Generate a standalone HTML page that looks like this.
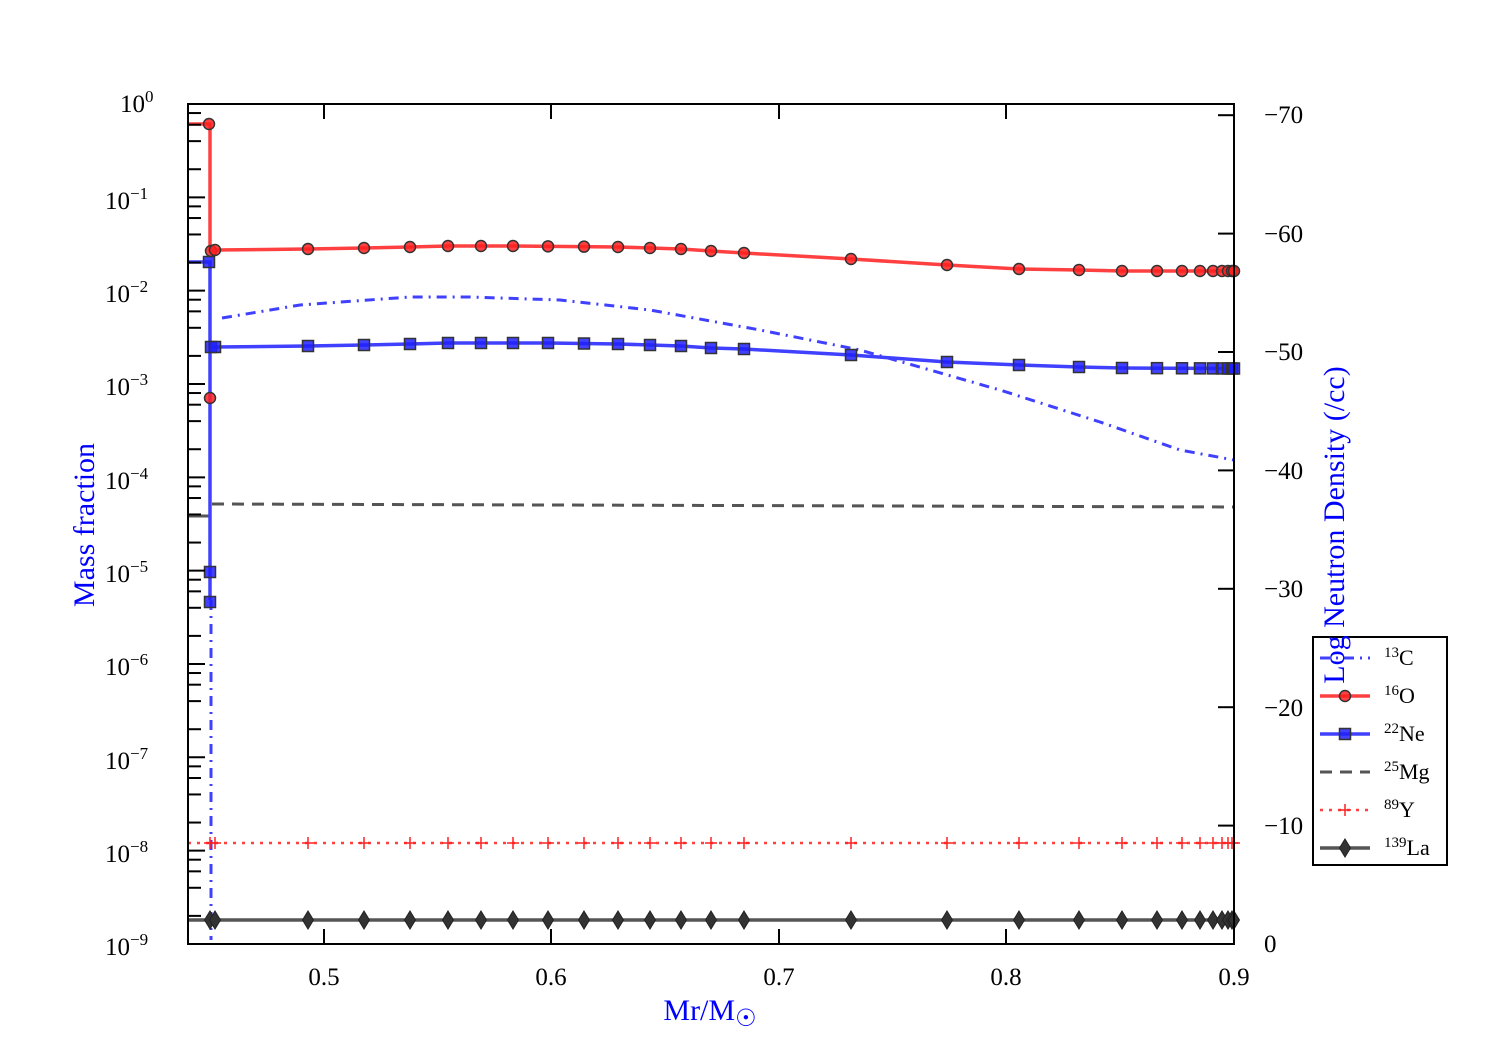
<!DOCTYPE html>
<html><head><meta charset="utf-8"><style>
html,body{margin:0;padding:0;background:#fff;}
svg{display:block;font-family:"Liberation Serif",serif;}
</style></head><body>
<svg id="s" width="1500" height="1050" xmlns="http://www.w3.org/2000/svg">
<rect width="1500" height="1050" fill="#fff"/>
<g id="data"></g>
<g id="ticks" stroke="#000" stroke-width="2"></g>
<rect x="188" y="104" width="1046" height="840" fill="none" stroke="#000" stroke-width="2"/>
<g id="legend">
<rect x="1313" y="637" width="134" height="228" fill="#fff" stroke="#000" stroke-width="2"/>
<g font-size="22" fill="#000">
<text x="1384" y="665"><tspan font-size="15" dy="-8">13</tspan><tspan dy="8">C</tspan></text>
<text x="1384" y="703"><tspan font-size="15" dy="-8">16</tspan><tspan dy="8">O</tspan></text>
<text x="1384" y="741"><tspan font-size="15" dy="-8">22</tspan><tspan dy="8">Ne</tspan></text>
<text x="1384" y="779"><tspan font-size="15" dy="-8">25</tspan><tspan dy="8">Mg</tspan></text>
<text x="1384" y="817"><tspan font-size="15" dy="-8">89</tspan><tspan dy="8">Y</tspan></text>
<text x="1384" y="855"><tspan font-size="15" dy="-8">139</tspan><tspan dy="8">La</tspan></text>
</g>
</g>
<g font-size="25" fill="#000">
<text x="120" y="112">10<tspan dy="-10" font-size="17">0</tspan></text>
<text x="105" y="209">10<tspan dy="-10" font-size="17">−1</tspan></text>
<text x="105" y="302">10<tspan dy="-10" font-size="17">−2</tspan></text>
<text x="105" y="395">10<tspan dy="-10" font-size="17">−3</tspan></text>
<text x="105" y="489">10<tspan dy="-10" font-size="17">−4</tspan></text>
<text x="105" y="582">10<tspan dy="-10" font-size="17">−5</tspan></text>
<text x="105" y="675">10<tspan dy="-10" font-size="17">−6</tspan></text>
<text x="105" y="769">10<tspan dy="-10" font-size="17">−7</tspan></text>
<text x="105" y="862">10<tspan dy="-10" font-size="17">−8</tspan></text>
<text x="105" y="955">10<tspan dy="-10" font-size="17">−9</tspan></text>
<g text-anchor="middle">
<text x="324" y="985">0.5</text><text x="551" y="985">0.6</text><text x="779" y="985">0.7</text><text x="1006" y="985">0.8</text><text x="1234" y="985">0.9</text>
</g>
<text x="1264" y="123">−70</text><text x="1264" y="242">−60</text><text x="1264" y="360">−50</text><text x="1264" y="479">−40</text>
<text x="1264" y="597">−30</text><text x="1264" y="716">−20</text><text x="1264" y="834">−10</text><text x="1264" y="952">0</text>
</g>
<text x="710" y="1020" font-size="30" fill="#00f" text-anchor="middle">Mr/M<tspan font-size="24" dy="6">☉</tspan></text>
<text transform="translate(94,525) rotate(-90)" font-size="30" fill="#00f" text-anchor="middle">Mass fraction</text>
<text transform="translate(1344,525) rotate(-90)" font-size="30" fill="#00f" text-anchor="middle">Log Neutron Density (/cc)</text>
</svg>
<script>
var NS="http://www.w3.org/2000/svg";
function el(p,t,a){var e=document.createElementNS(NS,t);for(var k in a)e.setAttribute(k,a[k]);p.appendChild(e);return e;}
var T=document.getElementById("ticks"),D=document.getElementById("data"),L=document.getElementById("legend");
for(var d=0;d<9;d++){var y0=104+93.33*d;
 el(T,"line",{x1:188,x2:205,y1:y0,y2:y0});
 [2,4,6,8].forEach(function(m){var y=y0+93.33*(1-Math.log10(m));el(T,"line",{x1:188,x2:201,y1:y,y2:y});});}
el(T,"line",{x1:188,x2:205,y1:944,y2:944});
[324,551,779,1006].forEach(function(x){el(T,"line",{x1:x,x2:x,y1:944,y2:929});el(T,"line",{x1:x,x2:x,y1:104,y2:119});});
for(var i=0;i<8;i++){var y=944-118.4*i;el(T,"line",{x1:1234,x2:1218,y1:y,y2:y});}
var xs=[215,308,364,410,448,481,513,548,584,618,650,681,711,744,851,947,1019,1079,1122,1157,1182,1200,1213,1222,1228,1232,1234];
function interp(px,py,x){for(var i=0;i<px.length-1;i++){if(x<=px[i+1])return py[i]+(py[i+1]-py[i])*(x-px[i])/(px[i+1]-px[i]);}return py[py.length-1];}
var oX=[215,308,364,410,448,513,618,650,681,711,744,851,947,1019,1079,1122,1234],oY=[250,249,248,247,246,246,247,248,249,251,253,259,265,269,270,271,271];
var nX=[215,308,364,410,448,548,618,650,681,711,744,851,947,1019,1079,1122,1234],nY=[347,346,345,344,343,343,344,345,346,348,349,355,362,365,367,368,368.5];
function poly(X,Y){return X.map(function(x,i){return x+","+Y[i];}).join(" ");}
var cX=[222,300,410,470,560,650,760,860,1000,1100,1180,1234],cY=[318,305,297,297,300,310,330,350,390,422,450,460];
el(D,"polyline",{points:poly(cX,cY),fill:"none",stroke:"#4040ff","stroke-width":3,"stroke-dasharray":"10 6 2 6"});
el(D,"line",{x1:211,x2:211,y1:600,y2:940,stroke:"#4040ff","stroke-width":3,"stroke-dasharray":"10 6 2 6"});
el(D,"line",{x1:188,x2:210,y1:516,y2:516,stroke:"#555","stroke-width":3});
el(D,"line",{x1:212,x2:1234,y1:504,y2:507,stroke:"#555","stroke-width":3,"stroke-dasharray":"12 8"});
el(D,"line",{x1:188,x2:1234,y1:843,y2:843,stroke:"#ff4040","stroke-width":2.5,"stroke-dasharray":"3 6"});
el(D,"line",{x1:188,x2:1234,y1:920,y2:920,stroke:"#555","stroke-width":3.5});
el(D,"polyline",{points:"188,124 210,124 210,250 "+poly(oX,oY),fill:"none",stroke:"#ff4040","stroke-width":3.5});
el(D,"polyline",{points:"188,262 210,262 210,600 210,347 "+poly(nX,nY),fill:"none",stroke:"#4040ff","stroke-width":3.5});
function circ(g,x,y){el(g,"circle",{cx:x,cy:y,r:5.5,fill:"#ff2020","fill-opacity":0.85,stroke:"#333","stroke-width":1.5});}
function sq(g,x,y){el(g,"rect",{x:x-5.5,y:y-5.5,width:11,height:11,fill:"#2020ff","fill-opacity":0.85,stroke:"#333","stroke-width":1.5});}
function plus(g,x,y){el(g,"path",{d:"M"+(x-6)+","+y+"h12M"+x+","+(y-6)+"v12",stroke:"#ff2020","stroke-width":1.5});}
function dia(g,x,y){el(g,"path",{d:"M"+x+","+(y-9)+"L"+(x+5.5)+","+y+"L"+x+","+(y+9)+"L"+(x-5.5)+","+y+"Z",fill:"#333",stroke:"#222","stroke-width":1});}
circ(D,209,124);circ(D,210,398);circ(D,211,251);
sq(D,209,262);sq(D,210,572);sq(D,210,602);sq(D,211,347);
plus(D,210,843);dia(D,210,920);
xs.forEach(function(x){circ(D,x,interp(oX,oY,x));sq(D,x,interp(nX,nY,x));plus(D,x,843);dia(D,x,920);});
var g=el(L,"g",{});
el(g,"line",{x1:1320,x2:1370,y1:658,y2:658,stroke:"#4040ff","stroke-width":3,"stroke-dasharray":"10 6 2 6"});
el(g,"line",{x1:1320,x2:1370,y1:696,y2:696,stroke:"#ff4040","stroke-width":3.5});circ(g,1345,696);
el(g,"line",{x1:1320,x2:1370,y1:734,y2:734,stroke:"#4040ff","stroke-width":3.5});sq(g,1345,734);
el(g,"line",{x1:1320,x2:1370,y1:772,y2:772,stroke:"#555","stroke-width":3,"stroke-dasharray":"12 8"});
el(g,"line",{x1:1320,x2:1370,y1:810,y2:810,stroke:"#ff4040","stroke-width":2.5,"stroke-dasharray":"3 6"});plus(g,1345,810);
el(g,"line",{x1:1320,x2:1370,y1:848,y2:848,stroke:"#555","stroke-width":3.5});dia(g,1345,848);
</script>
</body></html>
